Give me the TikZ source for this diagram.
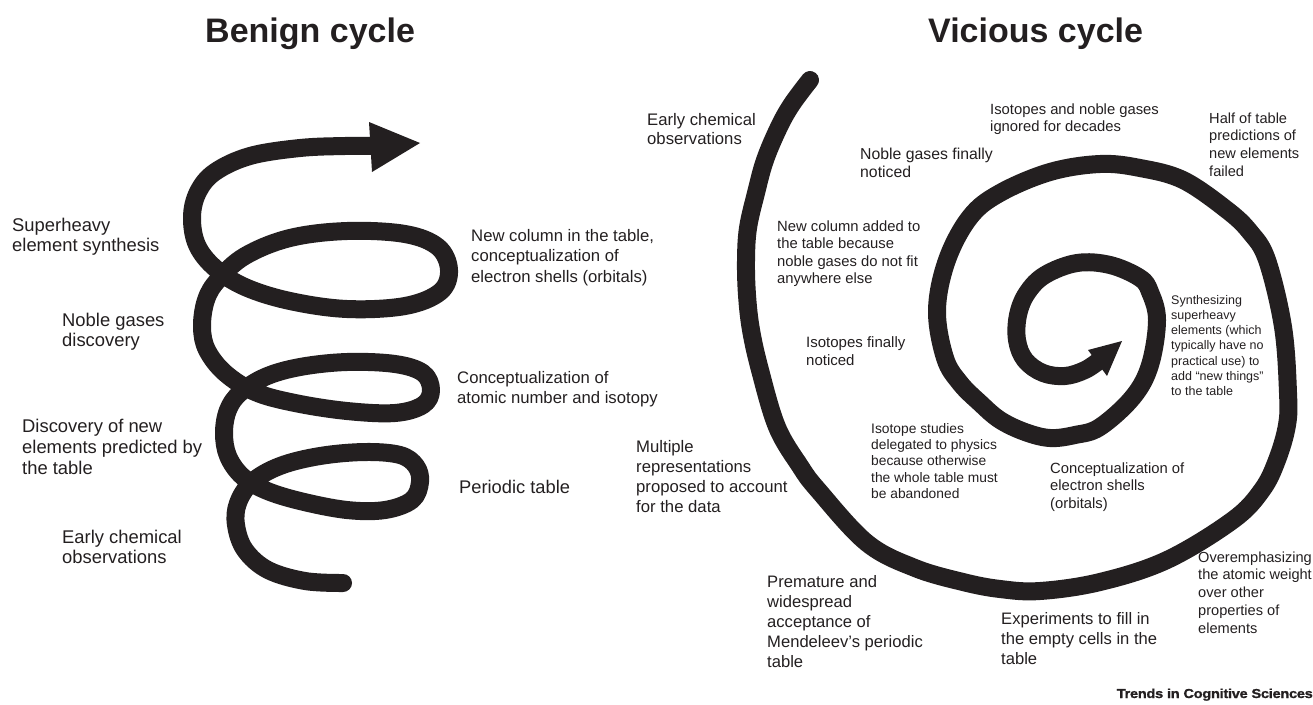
\documentclass[tikz,border=0pt]{standalone}
\usepackage{fontspec}
\setmainfont{Liberation Sans}
\newfontfamily\creditfont[FakeStretch=1.12, FakeBold=1.2, LetterSpace=-2.0]{Liberation Sans}
\usetikzlibrary{positioning}
\definecolor{inkcolor}{RGB}{35,31,32}
\tikzset{
  coil/.style={draw=inkcolor, line width=18pt, line cap=round, line join=round},
  tiphead/.style={fill=inkcolor},
  txt/.style n args={2}{font=\fontsize{#1}{#2}\selectfont, text=inkcolor,
                        anchor=base west, inner sep=0pt, align=left},
  headline/.style={font=\fontsize{34}{40}\selectfont\bfseries, text=inkcolor,
                   anchor=base west, inner sep=0pt},
}

\begin{document}
\begin{tikzpicture}[x=1pt, y=-1pt]
  \useasboundingbox (0,0) rectangle (1313,704);

  % --- Titles ---
  \node[headline] (btitle) at (205,42) {Benign cycle};
  \node[headline] (vtitle) at (928,42) {Vicious cycle};

  % --- Benign coil ---
  \draw[coil] plot[smooth, tension=0.6] coordinates {
    (343,583) (305,581) (268,570) (245,550) (236,525) (238,503) (252,482)
    (280,466) (320,456) (365,452) (400,455) (416,466) (420,482) (412,500)
    (385,510) (347,510) (300,501) (265,490) (242,476) (228,456) (224,433)
    (228,410) (240,393) (265,377) (300,367) (347,362) (395,364) (423,373)
    (431,390) (423,405) (395,413) (347,411) (295,403) (255,392) (225,373)
    (207,350) (202,327) (206,300) (218,280) (245,256) (290,238) (347,231)
    (405,234) (438,247) (449,270) (440,292) (405,306) (347,309) (290,301)
    (245,287) (215,268) (197,245) (192,217) (198,192) (215,172) (250,156)
    (300,148) (345,146) (378,146)};
  \fill[tiphead] (369,122) -- (420,143) -- (372,172) -- cycle;

  % --- Vicious spiral ---
  \draw[coil] plot[smooth, tension=0.6] coordinates {
    (810,80) (792,104) (779,127) (765,160) (756,193) (748,228) (746,260)
    (747,295) (751,330) (760,370) (777,427) (800,466) (818,490) (867,543)
    (915,568) (963,582) (1000,589) (1040,591) (1100,582) (1167,560)
    (1233,520) (1262,490) (1277,460) (1287,425) (1288,393) (1283,327)
    (1267,260) (1250,232) (1227,210) (1183,180) (1140,168) (1100,164)
    (1050,172) (1000,193) (970,217) (947,260) (937,310) (945,358)
    (960,383) (980,403) (1000,420) (1025,432) (1050,438) (1075,435)
    (1100,427) (1133,397) (1150,365) (1157,320) (1150,292) (1140,278)
    (1110,265) (1077,263) (1045,275) (1027,293) (1018,315) (1017,340)
    (1025,360) (1043,373) (1065,376) (1085,370) (1100,360)};
  \fill[tiphead] (1088,350) -- (1122,341) -- (1107,376) -- cycle;

  % --- Benign labels (placed at the baseline of the last line) ---
  \node[txt={18.4}{20.5}] (bsuper) at (12,251.5)
    {Superheavy\\element synthesis};
  \node[txt={18.4}{20.5}] (bnoble) at (62,346.5)
    {Noble gases\\discovery};
  \node[txt={18.4}{21}] (bdiscover) at (22,474)
    {Discovery of new\\elements predicted by\\the table};
  \node[txt={18.4}{20.5}] (bearly) at (62,563.5)
    {Early chemical\\observations};
  \node[txt={16.7}{20.5}] (bcolumn) at (471,282)
    {New column in the table,\\conceptualization of\\electron shells (orbitals)};
  \node[txt={16.7}{20}] (batomic) at (457,403)
    {Conceptualization of\\atomic number and isotopy};
  \node[txt={18.3}{20}] (bperiodic) at (459,493) {Periodic table};

  % --- Vicious labels (placed at the baseline of the last line) ---
  \node[txt={16.7}{19.5}] (vearly) at (647,144.5)
    {Early chemical\\observations};
  \node[txt={15.8}{18}] (vnoble) at (860,177)
    {Noble gases finally\\noticed};
  \node[txt={14.8}{17}] (vignored) at (990,131)
    {Isotopes and noble gases\\ignored for decades};
  \node[txt={14.6}{17.8}] (vhalf) at (1209,176.4)
    {Half of table\\predictions of\\new elements\\failed};
  \node[txt={14.8}{17.5}] (vcolumn) at (777,283.5)
    {New column added to\\the table because\\noble gases do not fit\\anywhere else};
  \node[txt={15}{18}] (visotopes) at (806,365)
    {Isotopes finally\\noticed};
  \node[txt={12.5}{15.3}] (vsynth) at (1171,395.8)
    {Synthesizing\\superheavy\\elements (which\\typically have no\\practical use) to\\add “new things”\\to the table};
  \node[txt={16.7}{20}] (vmultiple) at (636,512)
    {Multiple\\representations\\proposed to account\\for the data};
  \node[txt={13.8}{16.4}] (vstudies) at (871,498.6)
    {Isotope studies\\delegated to physics\\because otherwise\\the whole table must\\be abandoned};
  \node[txt={14.8}{17.5}] (vshells) at (1050,508)
    {Conceptualization of\\electron shells\\(orbitals)};
  \node[txt={14.6}{17.8}] (vweight) at (1198,633.2)
    {Overemphasizing\\the atomic weight\\over other\\properties of\\elements};
  \node[txt={16.6}{20}] (vpremature) at (767,667)
    {Premature and\\widespread\\acceptance of\\Mendeleev’s periodic\\table};
  \node[txt={16.6}{20}] (vexperiments) at (1001,664)
    {Experiments to fill in\\the empty cells in the\\table};

  % --- Credit ---
  \node[font=\fontsize{13}{15}\creditfont\bfseries, text=inkcolor,
        anchor=base east, inner sep=0pt] (credit) at (1313,698)
    {Trends in Cognitive Sciences};
\end{tikzpicture}
\end{document}
